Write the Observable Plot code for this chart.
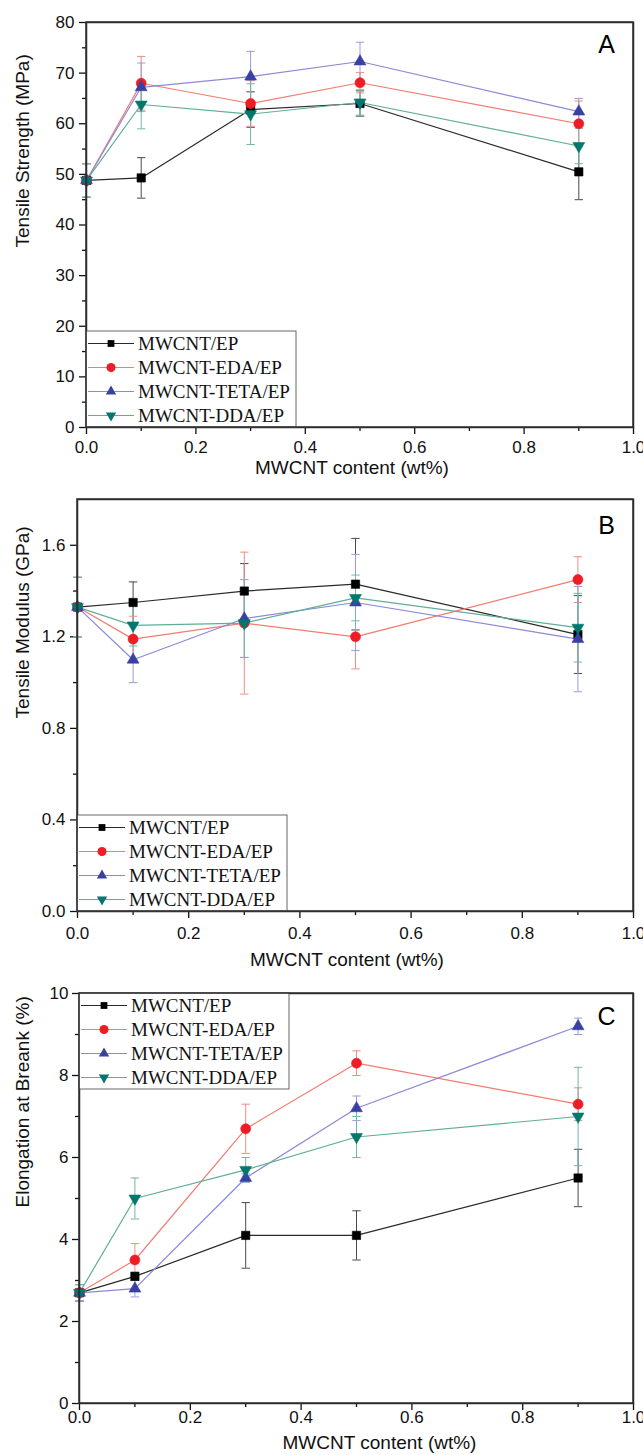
<!DOCTYPE html>
<html><head><meta charset="utf-8">
<script src="https://cdn.jsdelivr.net/npm/d3@7"></script>
<script src="https://cdn.jsdelivr.net/npm/@observablehq/plot@0.6"></script>
<style>
body{margin:0;background:#fff;}
#chart{width:643px;}
#chart svg{display:block;overflow:visible;}
</style></head><body><div id="chart"></div>
<script>
// ---------- data ----------
const xContent = [0, 0.1, 0.3, 0.5, 0.9];
const seriesNames = ["MWCNT/EP", "MWCNT-EDA/EP", "MWCNT-TETA/EP", "MWCNT-DDA/EP"];

// A: Tensile strength (MPa)
const tsEP      = [48.8, 49.3, 62.8, 64.0, 50.5];
const tsEPErr   = [3.3, 4.0, 3.5, 2.5, 5.5];
const tsEDA     = [48.8, 68.0, 64.0, 68.1, 60.0];
const tsEDAErr  = [3.3, 5.3, 4.5, 2.0, 4.5];
const tsTETA    = [48.8, 67.2, 69.3, 72.3, 62.4];
const tsTETAErr = [3.3, 4.8, 5.0, 3.8, 2.6];
const tsDDA     = [48.8, 63.8, 61.9, 64.2, 55.6];
const tsDDAErr  = [3.3, 4.8, 6.0, 2.5, 3.5];

// B: Tensile modulus (GPa)
const tmEP      = [1.33, 1.35, 1.40, 1.43, 1.21];
const tmEPErr   = [0.13, 0.09, 0.12, 0.20, 0.17];
const tmEDA     = [1.33, 1.19, 1.26, 1.20, 1.45];
const tmEDAErr  = [0.13, 0.10, 0.31, 0.14, 0.10];
const tmTETA    = [1.33, 1.10, 1.28, 1.35, 1.19];
const tmTETAErr = [0.13, 0.10, 0.17, 0.21, 0.23];
const tmDDA     = [1.33, 1.25, 1.26, 1.37, 1.24];
const tmDDAErr  = [0.13, 0.09, 0.15, 0.10, 0.15];

// C: Elongation at break (%)
const ebEP      = [2.7, 3.1, 4.1, 4.1, 5.5];
const ebEPErr   = [0.2, 0.1, 0.8, 0.6, 0.7];
const ebEDA     = [2.7, 3.5, 6.7, 8.3, 7.3];
const ebEDAErr  = [0.2, 0.4, 0.6, 0.3, 0.4];
const ebTETA    = [2.7, 2.8, 5.5, 7.2, 9.2];
const ebTETAErr = [0.2, 0.2, 0.1, 0.3, 0.2];
const ebDDA     = [2.7, 5.0, 5.7, 6.5, 7.0];
const ebDDAErr  = [0.2, 0.5, 0.3, 0.5, 1.2];

// ticks
const xTicks = [0, 0.2, 0.4, 0.6, 0.8, 1.0];
const xMinorTicks = [0.1, 0.3, 0.5, 0.7, 0.9];
const tsTicks = [0, 10, 20, 30, 40, 50, 60, 70, 80];
const tsMinor = [5, 15, 25, 35, 45, 55, 65, 75];
const tmTicks = [0, 0.4, 0.8, 1.2, 1.6];
const tmMinor = [0.2, 0.6, 1.0, 1.4];
const ebTicks = [0, 2, 4, 6, 8, 10];
const ebMinor = [1, 3, 5, 7, 9];

// ---------- styles ----------
const triDown = {
  draw(ctx, size) {
    const y = -Math.sqrt(size / (Math.sqrt(3) * 3));
    ctx.moveTo(0, -y * 2);
    ctx.lineTo(-Math.sqrt(3) * y, y);
    ctx.lineTo(Math.sqrt(3) * y, y);
    ctx.closePath();
  }
};
const capSymbol = {
  draw(ctx, size) {
    const w = Math.sqrt(size / Math.PI);
    ctx.moveTo(-w, 0); ctx.lineTo(w, 0);
  }
};
const styles = [
  {line: "#2a2a2a", marker: "#000000", err: "#4a4a4a", symbol: "square", d3sym: d3.symbolSquare, r: 4.7, lsize: 46},
  {line: "#f27c70", marker: "#ee1c25", err: "#f28c84", symbol: "circle", d3sym: d3.symbolCircle, r: 5, lsize: 64},
  {line: "#8a8ad6", marker: "#3a40a2", err: "#9c9cd8", symbol: "triangle", d3sym: d3.symbolTriangle, r: 4.4, lsize: 46},
  {line: "#5fae98", marker: "#00786e", err: "#70b8a8", symbol: triDown, d3sym: triDown, r: 4.4, lsize: 46}
];
const FONT = "'Liberation Sans', Arial, sans-serif";
const SERIF = "'Liberation Serif', 'Times New Roman', serif";

function makePanel(cfg) {
  const rows = cfg.series.map((s, i) => s.values.map((v, j) => ({s: i, x: xContent[j], y: v, e: s.errs[j]})));
  const marks = [];
  marks.push(Plot.axisX(xTicks, {tickSize: 7, tickPadding: cfg.xPad, tickFormat: d3.format(".1f"), fontSize: 17, label: null, strokeWidth: 1.3}));
  marks.push(Plot.axisX(xMinorTicks, {tickSize: 4, tickFormat: () => "", label: null, strokeWidth: 1.3}));
  marks.push(Plot.axisY(cfg.yTicks, {tickSize: 7, tickPadding: cfg.yPad, tickFormat: cfg.yFormat, fontSize: 17, label: null, strokeWidth: 1.3}));
  marks.push(Plot.axisY(cfg.yMinor, {tickSize: 4, tickFormat: () => "", label: null, strokeWidth: 1.3}));
  rows.forEach((r, i) => {
    const st = styles[i];
    marks.push(Plot.ruleX(r, {x: "x", y1: d => d.y - d.e, y2: d => d.y + d.e, stroke: st.err, strokeWidth: 1}));
    marks.push(Plot.dot(r, {x: "x", y: d => d.y + d.e, symbol: capSymbol, r: 4.2, stroke: st.err, fill: "none", strokeWidth: 1}));
    marks.push(Plot.dot(r, {x: "x", y: d => d.y - d.e, symbol: capSymbol, r: 4.2, stroke: st.err, fill: "none", strokeWidth: 1}));
  });
  rows.forEach((r, i) => marks.push(Plot.line(r, {x: "x", y: "y", stroke: styles[i].line, strokeWidth: 1.2})));
  rows.forEach((r, i) => marks.push(Plot.dot(r, {x: "x", y: "y", symbol: styles[i].symbol, r: styles[i].r, fill: styles[i].marker, stroke: styles[i].marker, strokeWidth: 0.6})));
  marks.push(Plot.frame({stroke: "#2e2e2e", strokeWidth: 1.5}));
  marks.push(Plot.text([cfg.letter], {text: d => d, frameAnchor: "top-right", dx: -27, dy: cfg.letterDy, lineAnchor: "bottom", textAnchor: "middle", fontSize: 25, fill: "#000"}));
  marks.push(Plot.text([cfg.yLabel], {text: d => d, frameAnchor: "left", rotate: -90, dx: 22 - cfg.marginLeft, dy: cfg.yLabelDy, fontSize: 19, fill: "#111"}));
  marks.push(Plot.text(["MWCNT content (wt%)"], {text: d => d, frameAnchor: "bottom", dx: cfg.xLabelDx, dy: cfg.xLabelDy, lineAnchor: "bottom", fontSize: 19, fill: "#111"}));

  const plot = Plot.plot({
    width: 643, height: cfg.height,
    marginTop: cfg.marginTop, marginBottom: cfg.marginBottom, marginLeft: cfg.marginLeft, marginRight: 10,
    x: {domain: [0, 1]},
    y: {domain: cfg.yDomain},
    style: {fontFamily: FONT, fontSize: "17px", background: "white", color: "#111"},
    marks
  });

  // legend box (decoration) positioned relative to the frame
  const xs = plot.scale("x"), ys = plot.scale("y");
  const left = xs.apply(0);
  const frameTop = ys.apply(cfg.yDomain[1]);
  const frameBottom = ys.apply(cfg.yDomain[0]);
  const boxW = 210, boxH = 96;
  const top = cfg.legend === "top" ? frameTop : frameBottom - boxH;
  const g = d3.select(plot).append("g").attr("text-anchor", "start");
  g.append("rect").attr("x", left).attr("y", top).attr("width", boxW).attr("height", boxH)
    .attr("fill", "white").attr("stroke", "#666").attr("stroke-width", 1);
  seriesNames.forEach((name, i) => {
    const st = styles[i];
    const cy = top + 12.5 + i * 24;
    g.append("line").attr("x1", left + 2).attr("x2", left + 48).attr("y1", cy).attr("y2", cy)
      .attr("stroke", st.line).attr("stroke-width", 1.2);
    g.append("path").attr("d", d3.symbol().type(st.d3sym).size(st.lsize)())
      .attr("transform", `translate(${left + 25},${cy})`).attr("fill", st.marker);
    g.append("text").attr("x", left + 52).attr("y", cy + 6.5).text(name)
      .attr("text-anchor", "start")
      .attr("font-family", SERIF).attr("font-size", 19).attr("fill", "#111");
  });
  // redraw frame on top of legend box
  g.append("rect").attr("x", left).attr("y", frameTop).attr("width", xs.apply(1) - left).attr("height", frameBottom - frameTop)
    .attr("fill", "none").attr("stroke", "#2e2e2e").attr("stroke-width", 1.5);
  return plot;
}

const chart = document.getElementById("chart");
chart.append(makePanel({
  height: 478, marginTop: 22, marginBottom: 51, marginLeft: 86,
  yDomain: [0, 80], yTicks: tsTicks, yMinor: tsMinor, yFormat: d3.format("d"),
  xPad: 6, yPad: 5, letter: "A", letterDy: 30,
  yLabel: "Tensile Strength (MPa)", yLabelDy: 22.5, xLabelDx: -8, xLabelDy: 46,
  legend: "bottom",
  series: [
    {values: tsEP, errs: tsEPErr}, {values: tsEDA, errs: tsEDAErr},
    {values: tsTETA, errs: tsTETAErr}, {values: tsDDA, errs: tsDDAErr}
  ]
}));
chart.append(makePanel({
  height: 497, marginTop: 21, marginBottom: 64, marginLeft: 77,
  yDomain: [0, 1.8], yTicks: tmTicks, yMinor: tmMinor, yFormat: d3.format(".1f"),
  xPad: 8, yPad: 5, letter: "B", letterDy: 34,
  yLabel: "Tensile Modulus (GPa)", yLabelDy: 13, xLabelDx: -8.5, xLabelDy: 54,
  legend: "bottom",
  series: [
    {values: tmEP, errs: tmEPErr}, {values: tmEDA, errs: tmEDAErr},
    {values: tmTETA, errs: tmTETAErr}, {values: tmDDA, errs: tmDDAErr}
  ]
}));
chart.append(makePanel({
  height: 480, marginTop: 18, marginBottom: 52, marginLeft: 79,
  yDomain: [0, 10], yTicks: ebTicks, yMinor: ebMinor, yFormat: d3.format("d"),
  xPad: 0, yPad: 4, letter: "C", letterDy: 31,
  yLabel: "Elongation at Breank (%)", yLabelDy: 9, xLabelDx: 23, xLabelDy: 45,
  legend: "top",
  series: [
    {values: ebEP, errs: ebEPErr}, {values: ebEDA, errs: ebEDAErr},
    {values: ebTETA, errs: ebTETAErr}, {values: ebDDA, errs: ebDDAErr}
  ]
}));
</script></body></html>
